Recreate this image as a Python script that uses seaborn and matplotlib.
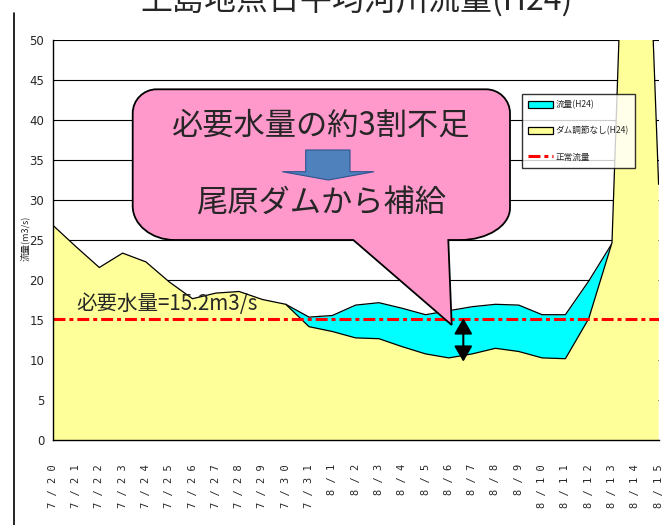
import numpy as np
import pandas as pd
import matplotlib
matplotlib.use("Agg")
import matplotlib.pyplot as plt
import seaborn as sns
from matplotlib.patches import Patch, PathPatch, Polygon, FancyArrowPatch
from matplotlib.lines import Line2D
from matplotlib.path import Path

# ---------------- data ----------------
dates = ['7/20', '7/21', '7/22', '7/23', '7/24', '7/25', '7/26', '7/27', '7/28',
         '7/29', '7/30', '7/31', '8/1', '8/2', '8/3', '8/4', '8/5', '8/6', '8/7',
         '8/8', '8/9', '8/10', '8/11', '8/12', '8/13', '8/14', '8/15']
# 流量(H24): hidden behind the yellow area where not visible -> NaN
flow_h24 = [np.nan] * 10 + [17.0, 15.4, 15.6, 16.9, 17.2, 16.5, 15.7, 16.2, 16.7,
                            17.0, 16.9, 15.7, 15.7, 19.9, 24.6, np.nan, np.nan]
# ダム調節なし(H24)
no_dam = [26.9, 24.2, 21.6, 23.4, 22.3, 19.8, 17.7, 18.4, 18.6, 17.6, 17.0,
          14.2, 13.6, 12.8, 12.7, 11.7, 10.8, 10.3, 10.8, 11.5, 11.1, 10.3,
          10.2, 15.2, 24.7, 110.0, 32.0]
normal_flow = 15.2
yticks = list(range(0, 55, 5))

series_names = ['流量(H24)', 'ダム調節なし(H24)', '正常流量']
title = '上島地点日平均河川流量(H24)'
ylabel = '流量(m3/s)'
note = '必要水量=15.2m3/s'
callout1 = '必要水量の約3割不足'
callout2 = '尾原ダムから補給'

# ---------------- style ----------------
sns.set_style("white")
plt.rcParams['font.family'] = ['Noto Sans CJK JP', 'DejaVu Sans']

W, H = 670, 525
def fx(x):
    return x / W
def fy(y):
    return 1 - y / H

fig = plt.figure(figsize=(W / 100, H / 100), dpi=100)
ax = fig.add_axes([fx(52.7), fy(440.3), (658.6 - 52.7) / W, 400 / H])

x = np.arange(len(dates))
df = pd.DataFrame({'x': x, 'flow': flow_h24, 'nodam': no_dam,
                   'normal': [normal_flow] * len(dates)})

CYAN = '#00FFFF'
YELLOW = '#FFFF99'
DASH = [3.9, 1.3, 1.3, 1.3]

ax.fill_between(df['x'], 0, df['flow'], color=CYAN, lw=0, zorder=1)
sns.lineplot(data=df.dropna(subset=['flow']), x='x', y='flow', color='black',
             lw=0.9, ax=ax, zorder=1.5)
ax.fill_between(df['x'], 0, df['nodam'], color=YELLOW, lw=0, zorder=2)
sns.lineplot(data=df, x='x', y='nodam', color='black', lw=0.9, ax=ax, zorder=2.2)
sns.lineplot(data=df, x='x', y='normal', color='red', lw=2.2, ax=ax, zorder=3)
ax.lines[-1].set_dashes(DASH)

ax.set_xlim(0, len(dates) - 1)
ax.set_ylim(0, 50)
ax.set_xlabel('')
ax.set_ylabel('')

ax.set_axisbelow(True)
ax.yaxis.grid(True, color='black', lw=0.8)
ax.xaxis.grid(False)
ax.set_yticks(yticks)
ax.set_yticklabels([str(v) for v in yticks],
                   family=['Liberation Sans Narrow', 'DejaVu Sans'], fontsize=8.5)
ax.tick_params(axis='y', length=0, pad=6)

ax.set_xticks(x)
ax.set_xticklabels([' '.join(d) for d in dates], rotation=90, va='top',
                   family=['DejaVu Sans Mono'], fontsize=7.5)
ax.tick_params(axis='x', direction='inout', length=8, width=0.8, pad=13,
               color='black')

for s in ['top', 'right']:
    ax.spines[s].set_visible(False)
for s in ['left', 'bottom']:
    ax.spines[s].set_color('black')
    ax.spines[s].set_linewidth(1.0)
    ax.spines[s].set_zorder(3.5)

ax.text(1.0, 17.1, note, fontsize=14.8, ha='left', va='center', zorder=4)

# legend
handles = [Patch(facecolor=CYAN, edgecolor='black', lw=0.9),
           Patch(facecolor=YELLOW, edgecolor='black', lw=0.9),
           Line2D([0], [0], color='red', lw=2.2, dashes=DASH)]
leg = fig.legend(handles, series_names, loc='upper left',
                 bbox_to_anchor=(fx(521.7), fy(94)), borderaxespad=0,
                 fancybox=False, frameon=True, fontsize=6.2, handlelength=2.9,
                 handleheight=0.9, labelspacing=1.95, handletextpad=0.3,
                 borderpad=0.75)
leg.get_frame().set_edgecolor('black')
leg.get_frame().set_linewidth(1.0)
leg.set_zorder(5)

# title & y label
fig.text(fx(357), fy(10), title, ha='center', va='baseline', fontsize=23)
fig.text(fx(25), fy(238), ylabel, rotation=90, ha='center', va='center',
         fontsize=6.5)

# left frame line
fig.add_artist(Line2D([fx(13.7), fx(13.7)], [0, fy(13.3)], color='black', lw=1.2))

# callout shape
L, R, T, B = 132.7, 510.0, 89.3, 240.0
k = 0.5523
r1 = 24
brx, bry = 50, 32
blx, bly = 42, 34
tailR, tailL, tip = 448.3, 353.3, (451.7, 325.0)
pts = [
    ((L + r1, T), Path.MOVETO),
    ((R - r1, T), Path.LINETO),
    ((R - r1 + k * r1, T), Path.CURVE4), ((R, T + r1 - k * r1), Path.CURVE4), ((R, T + r1), Path.CURVE4),
    ((R, B - bry), Path.LINETO),
    ((R, B - bry + k * bry), Path.CURVE4), ((R - brx + k * brx, B), Path.CURVE4), ((R - brx, B), Path.CURVE4),
    ((tailR, B), Path.LINETO),
    (tip, Path.LINETO),
    ((tailL, B), Path.LINETO),
    ((L + blx, B), Path.LINETO),
    ((L + blx - k * blx, B), Path.CURVE4), ((L, B - bly + k * bly), Path.CURVE4), ((L, B - bly), Path.CURVE4),
    ((L, T + r1), Path.LINETO),
    ((L, T + r1 - k * r1), Path.CURVE4), ((L + r1 - k * r1, T), Path.CURVE4), ((L + r1, T), Path.CURVE4),
    ((L + r1, T), Path.CLOSEPOLY),
]
verts = [(fx(p[0]), fy(p[1])) for p, c in pts]
codes = [c for p, c in pts]
callout = PathPatch(Path(verts, codes), facecolor='#FF99CC', edgecolor='black',
                    lw=1.3, transform=fig.transFigure, zorder=6)
fig.add_artist(callout)

fig.text(fx(320), fy(126), callout1, ha='center', va='center', fontsize=22.5, zorder=7)
fig.text(fx(320.8), fy(204), callout2, ha='center', va='center', fontsize=22.5, zorder=7)

arrow_pts = [(305.7, 150), (350, 150), (350, 171.7), (374, 171.7), (328.3, 180),
             (282.3, 171.7), (305.7, 171.7)]
blue_arrow = Polygon([(fx(a), fy(b)) for a, b in arrow_pts], closed=True,
                     facecolor='#4F81BD', edgecolor='#2F528F', lw=0.8,
                     transform=fig.transFigure, zorder=7)
fig.add_artist(blue_arrow)

# double arrow
darrow = FancyArrowPatch((fx(463.3), fy(318.3)), (fx(463.3), fy(361.7)),
                         transform=fig.transFigure,
                         arrowstyle='<|-|>,head_length=0.95,head_width=0.55',
                         mutation_scale=10, color='black', lw=1.5,
                         shrinkA=0, shrinkB=0, zorder=7)
fig.add_artist(darrow)

fig.savefig('out.png', dpi=100)
